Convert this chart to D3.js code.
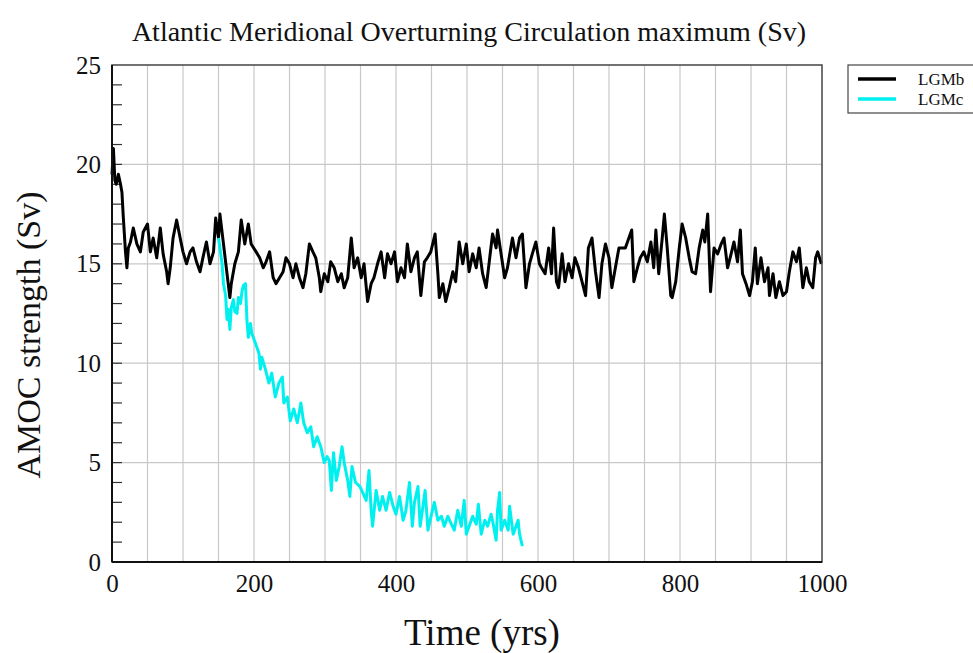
<!DOCTYPE html>
<html lang="en">

<head>
    <meta charset="utf-8">
    <!-- Load d3.js -->
    <script src="https://cdn.jsdelivr.net/npm/d3@7"></script>
    <style>
        body { margin: 0; background: #fff; }
        text { font-family: "Liberation Serif", "DejaVu Serif", serif; fill: #111; }
    </style>
</head>

<body>
    <div id="my_dataviz"></div>
</body>

<script>

    // ---- data ----
    const lgmbYears = [0, 2, 4, 6, 9, 12, 14, 16, 19, 21, 23, 26, 30, 35, 40, 44, 50, 54, 58, 63, 68, 72, 77, 79, 82, 86, 91, 96,
        100, 105, 110, 114, 119, 124, 128, 133, 138, 143, 146, 150, 152, 157, 161, 166, 168, 173, 178, 182, 187, 192, 196,
        203, 208, 213, 217, 222, 227, 231, 236, 241, 245, 250, 255, 259, 264, 269, 273, 278, 283, 287, 292, 294, 299,
        304, 308, 313, 318, 323, 327, 332, 337, 341, 346, 351, 355, 360, 365, 369, 374, 379, 384, 388, 393, 398,
        402, 407, 412, 416, 421, 426, 430, 435, 440, 444, 449, 455, 459, 461, 466, 470, 475, 480, 484, 489, 494, 499,
        503, 508, 513, 517, 522, 527, 532, 536, 541, 543, 548, 553, 557, 564, 569, 574, 578, 583, 588, 592, 597,
        602, 605, 610, 615, 619, 622, 626, 629, 634, 638, 643, 648, 652, 657, 662, 667, 671, 676, 681, 686, 690, 695,
        700, 704, 709, 714, 718, 723, 728, 732, 735, 740, 744, 749, 754, 759, 763, 766, 770, 775, 778, 782, 787, 789, 794, 799,
        803, 808, 813, 817, 822, 827, 832, 835, 839, 843, 848, 853, 858, 862, 867, 872, 876, 881, 885, 888, 893, 898,
        902, 906, 909, 914, 919, 924, 926, 931, 935, 940, 945, 950, 954, 959, 964, 968, 973, 978, 982, 987, 991, 994, 999];
    const lgmbValues = [19.5, 20.8, 19.2, 19.0, 19.5, 19.0, 18.6, 17.3, 15.6, 14.8, 15.8, 16.1, 16.8, 16.0, 15.6, 16.6, 17.0, 15.6, 16.3, 15.3, 16.8, 15.5, 14.6, 14.0, 14.8, 16.3, 17.2, 16.3,
        15.6, 15.0, 15.6, 15.8, 15.1, 14.6, 15.3, 16.1, 15.0, 15.6, 17.3, 16.3, 17.5, 16.0, 14.8, 13.3, 14.0, 15.0, 15.6, 17.2, 16.0, 17.0, 16.0,
        15.6, 15.3, 14.8, 15.1, 15.6, 14.3, 14.0, 14.3, 14.6, 15.3, 15.0, 14.3, 15.0, 14.3, 13.8, 14.5, 16.0, 15.6, 15.3, 14.3, 13.6, 14.5,
        14.1, 15.1, 14.8, 14.1, 14.5, 13.8, 14.3, 16.3, 14.8, 15.3, 14.3, 15.0, 13.1, 14.0, 14.3, 15.0, 15.6, 14.3, 15.5, 15.0, 15.6,
        14.1, 14.8, 14.3, 16.0, 14.6, 15.3, 15.6, 13.4, 15.1, 15.3, 15.6, 16.5, 14.5, 13.3, 14.0, 13.1, 13.8, 14.6, 14.1, 16.1, 15.0, 16.0,
        14.6, 15.5, 14.8, 15.8, 14.5, 13.8, 15.3, 16.5, 15.8, 16.7, 15.5, 14.3, 14.8, 16.3, 15.3, 16.3, 16.5, 13.8, 15.0, 15.5, 16.1,
        15.0, 14.8, 14.5, 15.8, 14.5, 16.8, 14.1, 13.8, 15.5, 14.1, 15.0, 14.3, 15.3, 14.8, 14.1, 13.4, 15.8, 16.3, 14.6, 13.3, 15.0, 16.0,
        15.3, 13.8, 14.8, 15.8, 15.8, 15.8, 16.3, 16.7, 14.1, 14.8, 15.3, 15.6, 15.1, 16.1, 14.8, 16.7, 14.5, 16.3, 17.5, 15.8, 13.4, 13.3, 14.1, 15.8,
        17.0, 16.3, 15.3, 14.6, 14.5, 15.8, 16.7, 16.1, 17.5, 13.6, 15.8, 15.5, 16.0, 16.3, 14.8, 15.5, 16.1, 15.1, 16.7, 14.5, 14.0, 13.4,
        14.1, 15.8, 14.0, 15.3, 14.1, 14.8, 13.4, 14.5, 13.3, 14.1, 13.4, 13.6, 14.6, 15.6, 15.1, 15.8, 13.8, 14.8, 14.1, 13.8, 15.3, 15.6, 15.0];

    const lgmcYears = [150, 152, 155, 157, 160, 162, 164, 166, 168, 171, 173, 176, 178, 181, 183, 185, 188, 190, 192, 195, 197,
        202, 207, 209, 211, 216, 221, 225, 230, 235, 240, 242, 247, 251, 256, 261, 266, 270, 275, 280, 284, 289, 294, 299,
        303, 306, 309, 312, 316, 320, 324, 327, 332, 335, 338, 343, 349, 353, 358, 362, 365, 367, 372, 377, 381, 386, 391, 396,
        400, 405, 410, 414, 419, 423, 426, 431, 434, 438, 441, 445, 450, 454, 459, 464, 468, 473, 478, 482, 487, 492, 496, 499,
        504, 508, 513, 516, 520, 525, 529, 534, 537, 541, 543, 546, 548, 553, 558, 560, 565, 569, 572, 574, 578];
    const lgmcValues = [16.3, 15.8, 15.0, 14.0, 13.4, 12.2, 12.7, 11.7, 12.8, 13.2, 12.6, 12.5, 13.3, 13.0, 13.6, 13.9, 14.0, 12.2, 11.3, 12.0, 11.5,
        11.0, 10.5, 9.7, 10.3, 9.7, 9.0, 9.5, 8.3, 9.0, 9.3, 8.0, 8.3, 7.1, 7.7, 7.0, 8.0, 7.0, 6.5, 6.8, 5.8, 6.3, 5.8, 5.0,
        5.3, 5.1, 3.6, 5.5, 4.1, 4.8, 5.8, 5.0, 4.1, 3.3, 4.8, 4.0, 3.8, 3.5, 3.1, 4.6, 2.6, 1.8, 3.6, 2.6, 3.3, 2.6, 3.5, 2.8,
        2.4, 3.3, 2.1, 2.6, 4.0, 1.8, 3.0, 3.8, 1.8, 2.8, 3.6, 1.6, 2.4, 3.0, 2.1, 2.3, 1.8, 2.3, 1.9, 1.6, 2.6, 1.8, 3.1, 1.4,
        1.9, 2.3, 1.9, 2.9, 1.4, 2.1, 1.8, 2.4, 1.9, 1.1, 2.6, 3.5, 1.6, 2.1, 1.6, 2.8, 1.4, 1.8, 2.1, 1.4, 0.8];

    const xTicks = [0, 200, 400, 600, 800, 1000];
    const yTicks = [0, 5, 10, 15, 20, 25];
    const seriesNames = ["LGMb", "LGMc"];
    const seriesColors = ["#000000", "#00f0f0"];

    const lgmb = lgmbYears.map((t, i) => ({ t: t, v: lgmbValues[i] }));
    const lgmc = lgmcYears.map((t, i) => ({ t: t, v: lgmcValues[i] }));

    // set the dimensions and margins of the graph
    const margin = { top: 65, right: 151, bottom: 91, left: 112 },
        width = 710,
        height = 497;

    const svg = d3.select("#my_dataviz")
        .append("svg")
        .attr("width", 973)
        .attr("height", 653)
        .append("g")
        .attr("transform", `translate(${margin.left},${margin.top})`);

    const x = d3.scaleLinear().domain([0, 1000]).range([0, width]);
    const y = d3.scaleLinear().domain([0, 25]).range([height, 0]);

    // vertical grid every 50 yrs
    svg.append("g")
        .selectAll("line")
        .data(d3.range(50, 1000, 50))
        .enter()
        .append("line")
        .attr("x1", d => x(d)).attr("x2", d => x(d))
        .attr("y1", 0).attr("y2", height)
        .attr("stroke", "#c8c8c8")
        .attr("stroke-width", 1.2);

    // horizontal grid on the labelled values
    svg.append("g")
        .selectAll("line")
        .data([5, 10, 15, 20])
        .enter()
        .append("line")
        .attr("x1", 0).attr("x2", width)
        .attr("y1", d => y(d)).attr("y2", d => y(d))
        .attr("stroke", "#c8c8c8")
        .attr("stroke-width", 1.2);

    // minor ticks on the y axis (inside)
    svg.append("g")
        .selectAll("line")
        .data(d3.range(1, 25))
        .enter()
        .append("line")
        .attr("x1", 0).attr("x2", 10)
        .attr("y1", d => y(d)).attr("y2", d => y(d))
        .attr("stroke", "#333")
        .attr("stroke-width", 1.2);

    // X axis labels
    const xAxis = svg.append("g")
        .attr("transform", `translate(0, ${height})`)
        .call(d3.axisBottom(x).tickValues(xTicks).tickSize(0).tickPadding(12).tickFormat(d3.format("d")));
    xAxis.select(".domain").remove();
    xAxis.selectAll("text")
        .style("font-family", "'Liberation Serif', serif")
        .style("font-size", "25px")
        .attr("fill", "#111");

    // Y axis labels
    const yAxis = svg.append("g")
        .call(d3.axisLeft(y).tickValues(yTicks).tickSize(0).tickPadding(11));
    yAxis.select(".domain").remove();
    yAxis.selectAll("text")
        .style("font-family", "'Liberation Serif', serif")
        .style("font-size", "25px")
        .attr("fill", "#111");

    // Add the lines
    const line = d3.line()
        .x(d => x(d.t))
        .y(d => y(d.v));

    svg.append("path")
        .datum(lgmb)
        .attr("fill", "none")
        .attr("stroke", seriesColors[0])
        .attr("stroke-width", 3)
        .attr("stroke-linejoin", "round")
        .attr("d", line);

    svg.append("path")
        .datum(lgmc)
        .attr("fill", "none")
        .attr("stroke", seriesColors[1])
        .attr("stroke-width", 3)
        .attr("stroke-linejoin", "round")
        .attr("d", line);

    // frame
    svg.append("rect")
        .attr("x", 0).attr("y", 0)
        .attr("width", width).attr("height", height)
        .attr("fill", "none")
        .attr("stroke", "#444")
        .attr("stroke-width", 1.5);
    svg.append("line")
        .attr("x1", 0).attr("x2", width)
        .attr("y1", height).attr("y2", height)
        .attr("stroke", "#111").attr("stroke-width", 2);
    svg.append("line")
        .attr("x1", 0).attr("x2", 0)
        .attr("y1", 0).attr("y2", height)
        .attr("stroke", "#111").attr("stroke-width", 2);

    // Title
    svg.append("text")
        .attr("x", 357)
        .attr("y", -24)
        .attr("text-anchor", "middle")
        .style("font-size", "28px")
        .text("Atlantic Meridional Overturning Circulation maximum (Sv)");

    // axis labels
    svg.append("text")
        .attr("x", 370)
        .attr("y", height + 83)
        .attr("text-anchor", "middle")
        .style("font-size", "37px")
        .text("Time (yrs)");

    svg.append("text")
        .attr("transform", `translate(${-72},${270}) rotate(-90)`)
        .attr("text-anchor", "middle")
        .style("font-size", "34px")
        .text("AMOC strength (Sv)");

    // legend
    const legend = svg.append("g")
        .attr("transform", `translate(${736},0)`);
    legend.append("rect")
        .attr("x", 0).attr("y", 0)
        .attr("width", 140).attr("height", 48)
        .attr("fill", "#fff")
        .attr("stroke", "#444")
        .attr("stroke-width", 1.2);
    seriesNames.forEach((name, i) => {
        legend.append("line")
            .attr("x1", 10).attr("x2", 48)
            .attr("y1", 14 + i * 20).attr("y2", 14 + i * 20)
            .attr("stroke", seriesColors[i])
            .attr("stroke-width", 3.5);
        legend.append("text")
            .attr("x", 70)
            .attr("y", 20 + i * 20)
            .style("font-size", "17px")
            .text(name);
    });

</script>

</html>
